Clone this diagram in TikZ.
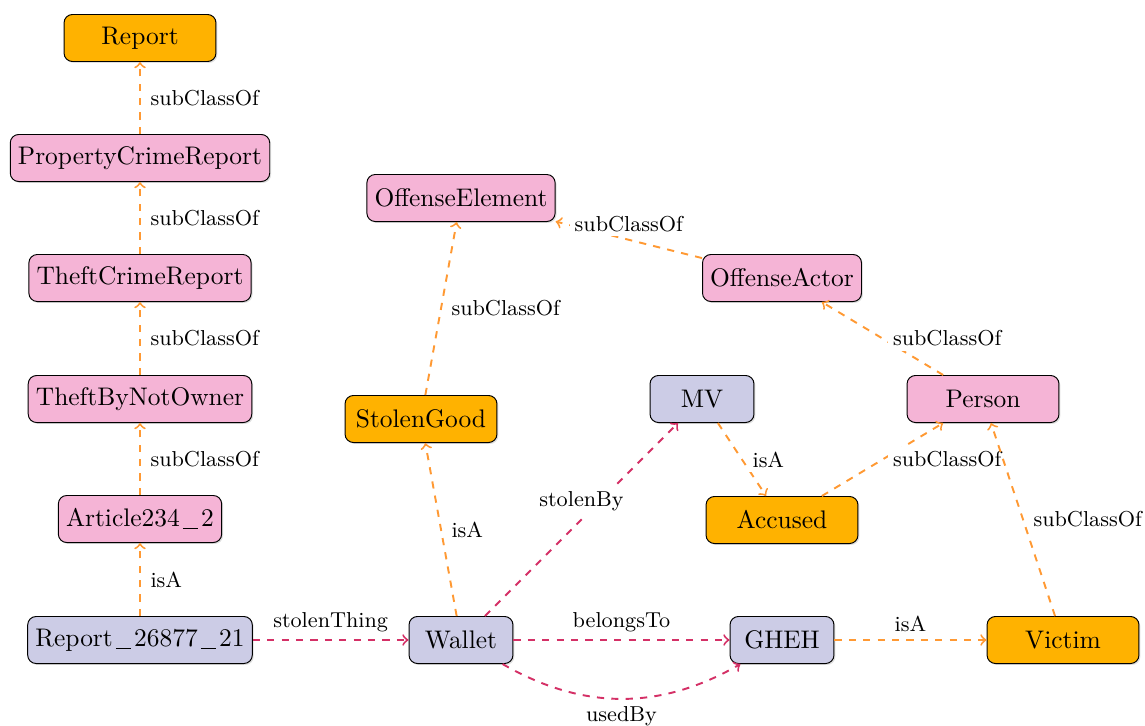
\documentclass[tikz,border=0pt]{standalone}
\usetikzlibrary{shadows}
\definecolor{cls}{RGB}{255,178,0}
\definecolor{sub}{RGB}{245,180,214}
\definecolor{inst}{RGB}{204,204,230}
\definecolor{schemaline}{RGB}{255,153,51}
\definecolor{propline}{RGB}{212,48,102}
% detached underscore used in identifiers
\newcommand{\usc}{\kern.12em\rule[-.25ex]{.6em}{.5pt}\kern.12em}
\begin{document}
\begin{tikzpicture}[x=0.4167pt, y=-0.4167pt,
  box/.style={draw=black, rounded corners=3.5pt, minimum height=19.6pt, inner sep=3.2pt,
    font=\fontsize{10.6pt}{12.5pt}\selectfont,
    drop shadow={opacity=0.25, shadow xshift=0.6pt, shadow yshift=-0.6pt}},
  classbox/.style={box, fill=cls, minimum width=63.3pt},
  subbox/.style={box, fill=sub, minimum width=63.3pt},
  instbox/.style={box, fill=inst, minimum width=43.3pt},
  schema/.style={->, thick, dashed, draw=schemaline},
  prop/.style={->, thick, dashed, draw=propline},
  lbl/.style={font=\small, fill=white, inner sep=2pt}
]
\useasboundingbox (0,0) rectangle (1145,725);

% class hierarchy of reports
\node[classbox] (report) at (140,38) {Report};
\node[subbox] (pcr) at (140,158) {PropertyCrimeReport};
\node[subbox] (tcr) at (140,278) {TheftCrimeReport};
\node[subbox] (tbno) at (140,399) {TheftByNotOwner};
\node[subbox] (art) at (140,519) {Article234\usc2};
\node[instbox] (rep) at (140,640) {Report\usc26877\usc21};

% offense elements
\node[subbox] (oe) at (461,198) {OffenseElement};
\node[subbox] (oa) at (782,278) {OffenseActor};
\node[classbox] (sg) at (421,419) {StolenGood};
\node[instbox] (mv) at (702,399) {MV};
\node[subbox] (person) at (983,399) {Person};
\node[classbox] (acc) at (782,520) {Accused};

% individuals on the bottom row
\node[instbox] (wallet) at (461,640) {Wallet};
\node[instbox] (gheh) at (782,640) {GHEH};
\node[classbox] (victim) at (1063,640) {Victim};

% subclass and type links
\draw[schema] (pcr) -- node[lbl, right=2pt] {subClassOf} (report);
\draw[schema] (tcr) -- node[lbl, right=2pt] {subClassOf} (pcr);
\draw[schema] (tbno) -- node[lbl, right=2pt] {subClassOf} (tcr);
\draw[schema] (art) -- node[lbl, right=2pt] {subClassOf} (tbno);
\draw[schema] (rep) -- node[lbl, right=2pt] {isA} (art);
\draw[schema] (wallet) -- node[lbl, right=2pt] {isA} (sg);
\draw[schema] (sg) -- node[lbl, right=2pt] {subClassOf} (oe);
\draw[schema] (oa) -- node[lbl, above=1pt] {subClassOf} (oe);
\draw[schema] (person) -- node[lbl, right=2pt] {subClassOf} (oa);
\draw[schema] (acc) -- node[lbl, right=2pt] {subClassOf} (person);
\draw[schema] (mv) -- node[lbl, right=2pt] {isA} (acc);
\draw[schema] (victim) -- node[lbl, right=2pt] {subClassOf} (person);
\draw[schema] (gheh) -- node[lbl, above=1pt] {isA} (victim);

% object properties
\draw[prop] (rep) -- node[lbl, above=1pt] {stolenThing} (wallet);
\draw[prop] (wallet) -- node[lbl, above=1pt] {belongsTo} (gheh);
\draw[prop] (wallet) to[bend right=30] node[lbl, below=1pt] {usedBy} (gheh);
\draw[prop] (wallet) -- node[lbl, above=1pt] {stolenBy} (mv);
\end{tikzpicture}
\end{document}
